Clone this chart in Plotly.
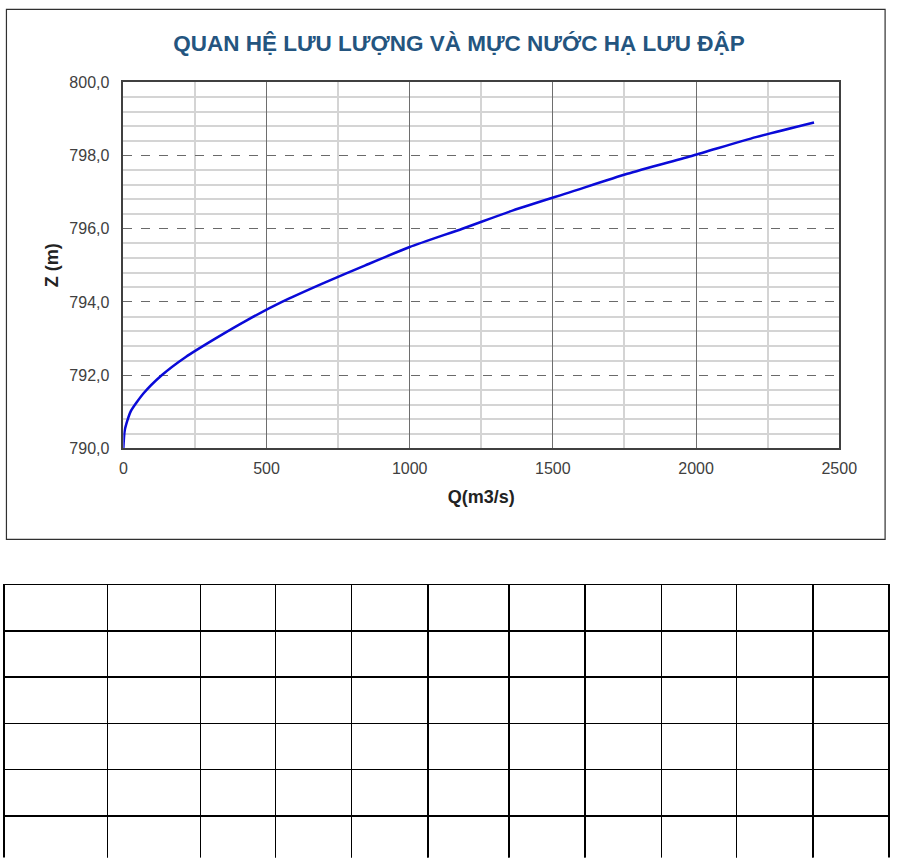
import plotly.graph_objects as go

# Quan he Q ~ Z ha luu dap (doc tu hinh)
muc_nuoc_z = [790.0, 790.5, 791.0, 791.5, 792.0, 792.5, 793.0, 793.5, 794.0,
              794.5, 795.0, 795.5, 796.0, 796.5, 797.0, 797.5, 798.0, 798.5, 798.9]
luu_luong_q = [0, 5, 25, 70, 134, 218, 321, 431, 554,
               695, 845, 1000, 1184, 1361, 1561, 1760, 1990, 2209, 2412]

n_cot_bang = 11
n_dong_bang = 5
do_rong_cot = [106, 95, 77, 78, 78, 83, 78, 78, 77, 78, 78]

W, H = 907, 867
FONT = "Liberation Sans, Arial, sans-serif"


def px_x(p):
    return p / W


def px_y(p):
    return 1 - p / H


fig = go.Figure()

fig.add_trace(
    go.Scatter(
        x=luu_luong_q, y=muc_nuoc_z,
        mode="lines",
        line=dict(color="#0a0ad8", width=2.5, shape="spline", smoothing=0.6),
        showlegend=False,
        hoverinfo="skip",
    )
)

# empty table below the chart
fig.add_trace(
    go.Table(
        domain=dict(x=[0, 1], y=[px_y(866.5), px_y(588)]),
        columnwidth=do_rong_cot,
        header=dict(values=[""] * n_cot_bang, height=46.3,
                    line=dict(color="black", width=1.5), fill_color="white"),
        cells=dict(values=[[""] * n_dong_bang for _ in range(n_cot_bang)], height=46.3,
                   line=dict(color="black", width=1.5), fill_color="white"),
    )
)

fig.update_xaxes(
    domain=[px_x(122.3), px_x(856)],
    range=[0, 2500], dtick=500, tick0=0,
    showgrid=True, gridcolor="#6e6e6e", gridwidth=1,
    minor=dict(dtick=250, showgrid=True, gridcolor="#d4d4d4", gridwidth=1.5, griddash="solid"),
    showline=True, linecolor="#404040", linewidth=1.5, mirror=True,
    ticks="", ticklabelstandoff=5, zeroline=False,
    tickfont=dict(family=FONT, size=16, color="#404040"),
    title=dict(text="<b>Q(m3/s)</b>", font=dict(family=FONT, size=18, color="#222222"), standoff=14),
)
fig.update_yaxes(
    domain=[px_y(449.3), px_y(75.7)],
    range=[790, 800], dtick=2, tick0=790, tickformat=".1f",
    showgrid=True, gridcolor="#6a6a6a", gridwidth=1, griddash="dash",
    minor=dict(dtick=0.4, showgrid=True, gridcolor="#d4d4d4", gridwidth=1.5, griddash="solid"),
    showline=True, linecolor="#404040", linewidth=1.5, mirror=True,
    ticks="", ticklabelstandoff=9, zeroline=False,
    tickfont=dict(family=FONT, size=16, color="#404040"),
    title=dict(text="<b>Z (m)</b>", font=dict(family=FONT, size=18, color="#222222"), standoff=6),
)

# chart frame
fig.add_shape(type="rect", xref="paper", yref="paper",
              x0=px_x(2.5), x1=px_x(903), y0=px_y(542), y1=px_y(1.5),
              line=dict(color="#303030", width=1.2), layer="below")

fig.update_layout(
    width=W, height=H,
    margin=dict(l=0, r=0, t=0, b=0),
    paper_bgcolor="white", plot_bgcolor="white",
    separators=",.",
    title=dict(text="<b>QUAN HỆ LƯU LƯỢNG VÀ MỰC NƯỚC HẠ LƯU ĐẬP</b>",
               x=px_x(459), xanchor="center", y=px_y(43), yanchor="middle",
               font=dict(family=FONT, size=22.5, color="#24557f")),
)

# no default body margin, so the figure sits at the page corner
fig.write_html("out.html", config=dict(displayModeBar=False),
               post_script="document.body.style.margin='0';")
